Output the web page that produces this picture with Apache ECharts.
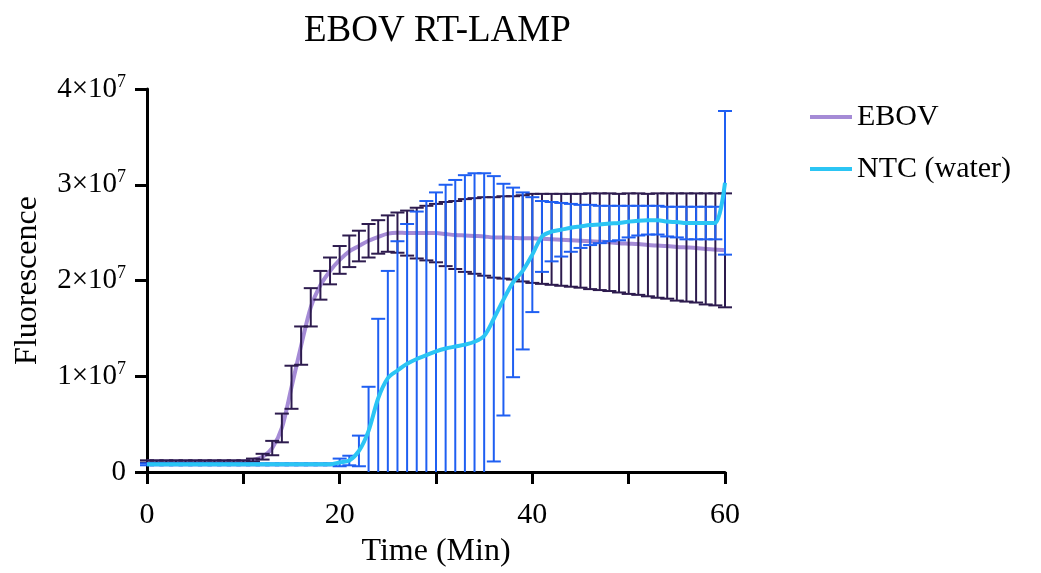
<!DOCTYPE html>
<html>
<head>
<meta charset="utf-8">
<script src="https://cdn.jsdelivr.net/npm/echarts@6/dist/echarts.min.js"></script>
<style>
  html, body { margin: 0; padding: 0; background: #fff; }
  #chart { width: 1041px; height: 573px; }
</style>
</head>
<body>
<div id="chart"></div>
<script>
// time in minutes, fluorescence values in units of 1x10^7
const time = [0, 1, 2, 3, 4, 5, 6, 7, 8, 9, 10, 11, 12, 13, 14, 15, 16, 17, 18, 19, 20,
  21, 22, 23, 24, 25, 26, 27, 28, 29, 30, 31, 32, 33, 34, 35, 36, 37, 38, 39, 40,
  41, 42, 43, 44, 45, 46, 47, 48, 49, 50, 51, 52, 53, 54, 55, 56, 57, 58, 59, 60]

const ebovMean = [0.11, 0.11, 0.11, 0.11, 0.11, 0.11, 0.11, 0.11, 0.11, 0.11, 0.11,
  0.125, 0.16, 0.25, 0.46, 0.885, 1.32, 1.72, 1.95, 2.1, 2.215,
  2.305, 2.36, 2.415, 2.455, 2.49, 2.5, 2.495, 2.495, 2.495, 2.495,
  2.485, 2.475, 2.47, 2.465, 2.46, 2.45, 2.45, 2.445, 2.44, 2.44,
  2.435, 2.43, 2.425, 2.42, 2.415, 2.41, 2.405, 2.4, 2.39, 2.385,
  2.38, 2.37, 2.365, 2.36, 2.35, 2.345, 2.34, 2.33, 2.325, 2.315]
const ebovSd = [0.012, 0.012, 0.012, 0.012, 0.012, 0.012, 0.012, 0.012, 0.012, 0.012, 0.012,
  0.015, 0.03, 0.075, 0.15, 0.225, 0.2, 0.2, 0.15, 0.14, 0.145,
  0.165, 0.16, 0.175, 0.175, 0.19, 0.21, 0.235, 0.265, 0.285, 0.305,
  0.335, 0.355, 0.38, 0.395, 0.41, 0.42, 0.43, 0.435, 0.45, 0.465,
  0.47, 0.475, 0.48, 0.485, 0.49, 0.5, 0.505, 0.51, 0.515, 0.525,
  0.53, 0.535, 0.545, 0.55, 0.56, 0.565, 0.57, 0.58, 0.585, 0.595]

const ntcMean = [0.08, 0.08, 0.08, 0.08, 0.08, 0.08, 0.08, 0.08, 0.08, 0.08, 0.08,
  0.08, 0.08, 0.08, 0.08, 0.08, 0.08, 0.08, 0.08, 0.08, 0.1,
  0.12, 0.22, 0.43, 0.77, 0.98, 1.06, 1.13, 1.18, 1.22, 1.26,
  1.29, 1.31, 1.33, 1.36, 1.42, 1.6, 1.8, 1.98, 2.1, 2.27,
  2.46, 2.51, 2.53, 2.55, 2.565, 2.58, 2.585, 2.595, 2.6, 2.615,
  2.625, 2.63, 2.63, 2.615, 2.61, 2.6, 2.6, 2.6, 2.6, 3.02]
const ntcSd = [0.01, 0.01, 0.01, 0.01, 0.01, 0.01, 0.01, 0.01, 0.01, 0.01, 0.01,
  0.01, 0.01, 0.01, 0.01, 0.01, 0.01, 0.01, 0.01, 0.01, 0.04,
  0.05, 0.16, 0.46, 0.83, 1.12, 1.35, 1.46, 1.54, 1.61, 1.66,
  1.71, 1.74, 1.77, 1.76, 1.7, 1.49, 1.21, 0.99, 0.82, 0.6,
  0.37, 0.31, 0.28, 0.25, 0.225, 0.21, 0.195, 0.185, 0.18, 0.165,
  0.155, 0.15, 0.15, 0.155, 0.16, 0.17, 0.17, 0.17, 0.17, 0.75]

const xLabels = ['0', '', '20', '', '40', '', '60']
const yLabels = ['0', '1', '2', '3', '4']

const font = 'Liberation Serif, Times New Roman, serif'

const errData = (mean, sd) => time.map((t, i) => [t, Math.max(0, mean[i] - sd[i]), mean[i] + sd[i]])

const errBars = (color) => (params, api) => {
  const x = api.value(0)
  const lo = api.value(1)
  const hi = api.value(2)
  const top = api.coord([x, hi])
  const bot = api.coord([x, lo])
  const half = 7
  const style = { stroke: color, lineWidth: 2 }
  const children = [
    { type: 'line', shape: { x1: top[0], y1: top[1], x2: bot[0], y2: bot[1] }, style },
    { type: 'line', shape: { x1: top[0] - half, y1: top[1], x2: top[0] + half, y2: top[1] }, style }
  ]
  if (lo > 0) {
    children.push({ type: 'line', shape: { x1: bot[0] - half, y1: bot[1], x2: bot[0] + half, y2: bot[1] }, style })
  }
  return { type: 'group', children }
}

const chart = echarts.init(document.getElementById('chart'))
const option = {
  animation: false,
  title: {
    text: 'EBOV RT-LAMP',
    left: 299,
    top: 8,
    textStyle: { fontFamily: font, fontSize: 37, fontWeight: 'normal', color: '#000' }
  },
  legend: {
    orient: 'vertical',
    left: 805,
    top: 97,
    icon: 'rect',
    itemWidth: 42,
    itemHeight: 4,
    itemGap: 22,
    data: ['EBOV', 'NTC (water)'],
    textStyle: { fontFamily: font, fontSize: 30, color: '#000' }
  },
  grid: {
    top: 89,
    left: 147,
    right: 316,
    bottom: 99
  },
  xAxis: {
    type: 'value',
    min: 0,
    max: 60,
    interval: 10,
    name: 'Time (Min)',
    nameLocation: 'middle',
    nameGap: 64,
    nameTextStyle: { fontFamily: font, fontSize: 32, color: '#000' },
    axisLine: { lineStyle: { color: '#000', width: 3 } },
    axisTick: { length: 12, lineStyle: { color: '#000', width: 3 } },
    axisLabel: {
      margin: 28,
      fontFamily: font,
      fontSize: 30,
      color: '#000',
      formatter: (v) => xLabels[v / 10]
    },
    splitLine: { show: false }
  },
  yAxis: {
    type: 'value',
    min: 0,
    max: 4,
    interval: 1,
    name: 'Fluorescence',
    nameLocation: 'middle',
    nameGap: 103,
    nameRotate: 90,
    nameTextStyle: { fontFamily: font, fontSize: 32, color: '#000' },
    axisLine: { show: true, lineStyle: { color: '#000', width: 3 } },
    axisTick: { show: true, length: 12, lineStyle: { color: '#000', width: 3 } },
    axisLabel: {
      margin: 21,
      fontFamily: font,
      color: '#000',
      formatter: (v) => v === 0 ? '{n|0}' : `{n|${yLabels[v]}×10}{s|7}`,
      rich: {
        n: { fontFamily: font, fontSize: 29, color: '#000', lineHeight: 32 },
        s: { fontFamily: font, fontSize: 18, color: '#000', lineHeight: 32, verticalAlign: 'top', padding: [0, 0, 16, 0] }
      }
    },
    splitLine: { show: false }
  },
  series: [
    {
      name: 'EBOV',
      type: 'line',
      smooth: 0.3,
      symbol: 'none',
      color: '#a58bd6',
      lineStyle: { width: 4, color: '#a58bd6' },
      z: 2,
      data: time.map((t, i) => [t, ebovMean[i]])
    },
    {
      name: 'EBOV SD',
      type: 'custom',
      renderItem: errBars('#2d1b4e'),
      z: 3,
      data: errData(ebovMean, ebovSd)
    },
    {
      name: 'NTC SD',
      type: 'custom',
      renderItem: errBars('#1f5ff2'),
      z: 4,
      data: errData(ntcMean, ntcSd)
    },
    {
      name: 'NTC (water)',
      type: 'line',
      smooth: 0.3,
      symbol: 'none',
      color: '#2bc5f4',
      lineStyle: { width: 4, color: '#2bc5f4' },
      z: 5,
      data: time.map((t, i) => [t, ntcMean[i]])
    }
  ]
}
chart.setOption(option)
</script>
</body>
</html>
